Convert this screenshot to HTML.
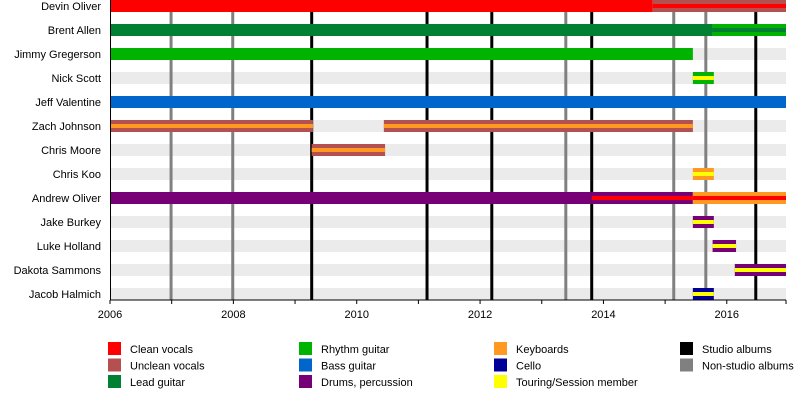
<!DOCTYPE html>
<html><head><meta charset="utf-8"><style>
html,body{margin:0;padding:0;background:#fff;}
svg{display:block;font-family:"Liberation Sans",Arial,sans-serif;}
</style></head><body>
<svg id="chart" width="800" height="420" xmlns="http://www.w3.org/2000/svg"></svg>
<script>
const members = ["Devin Oliver","Brent Allen","Jimmy Gregerson","Nick Scott","Jeff Valentine","Zach Johnson","Chris Moore","Chris Koo","Andrew Oliver","Jake Burkey","Luke Holland","Dakota Sammons","Jacob Halmich"];
// bars: [row, start, end, outerRole, innerRole(or null)]
const bars = [
 [0,2006,2014.8,"clean",null],[0,2014.8,2016.96,"unclean","clean"],
 [1,2006,2015.77,"lead",null],[1,2015.77,2016.96,"rhythm","lead"],
 [2,2006,2015.45,"rhythm",null],
 [3,2015.45,2015.79,"rhythm","touring"],
 [4,2006,2016.96,"bass",null],
 [5,2006,2009.29,"unclean","keys"],[5,2010.44,2015.45,"unclean","keys"],
 [6,2009.27,2010.46,"unclean","keys"],
 [7,2015.45,2015.79,"keys","touring"],
 [8,2006,2013.81,"drums",null],[8,2013.81,2015.45,"drums","clean"],[8,2015.45,2016.96,"keys","clean"],
 [9,2015.45,2015.79,"drums","touring"],
 [10,2015.77,2016.15,"drums","touring"],
 [11,2016.13,2016.96,"drums","touring"],
 [12,2015.45,2015.79,"cello","touring"]
];
const studioAlbums = [2009.27,2011.14,2012.19,2013.81,2016.47];
const otherAlbums = [2006.99,2007.99,2013.39,2015.14,2015.66];
const tickYears = [2006,2007,2008,2009,2010,2011,2012,2013,2014,2015,2016,2017];
const labelYears = [2006,2008,2010,2012,2014,2016];
const roleColors = {clean:"#ff0000",unclean:"#b55050",lead:"#008033",rhythm:"#00b300",bass:"#0066cc",drums:"#770077",keys:"#ff9922",cello:"#000099",touring:"#ffff00"};
const legend = [["Clean vocals","clean"],["Unclean vocals","unclean"],["Lead guitar","lead"],["Rhythm guitar","rhythm"],["Bass guitar","bass"],["Drums, percussion","drums"],["Keyboards","keys"],["Cello","cello"],["Touring/Session member","touring"],["Studio albums","studio"],["Non-studio albums","other"]];

const svg=document.getElementById('chart');
const NS="http://www.w3.org/2000/svg";
const x0=110,x1=786,yr0=2006,yr1=2016.96;
const X=v=>x0+(v-yr0)*(x1-x0)/(yr1-yr0);
const Y=r=>r*24;
function mk(t,a,p){const e=document.createElementNS(NS,t);for(const k in a)e.setAttribute(k,a[k]);(p||svg).appendChild(e);return e;}
members.forEach((m,i)=>{
 const bg=mk('rect',{x:x0,y:Y(i),width:x1-x0,height:12,fill:'#ebebeb'});
 
 
 const t=mk('text',{x:101,y:Y(i)+10,'text-anchor':'end','font-size':'11',fill:'#000'});
 t.textContent=m;
 
 
});
otherAlbums.forEach(v=>{
 const l=mk('rect',{x:X(v)-1.5,y:0,width:3,height:300,fill:'#808080'});
 
 
});
studioAlbums.forEach(v=>{
 const l=mk('rect',{x:X(v)-1.5,y:0,width:3,height:300,fill:'#000'});
 
 
});
bars.forEach(b=>{
 const [r,s,e,o,inn]=b;
 const rc=mk('rect',{x:X(s),y:Y(r),width:X(e)-X(s),height:12,fill:roleColors[o]});
 
 
 if(inn){
  const ic=mk('rect',{x:X(s),y:Y(r)+4,width:X(e)-X(s),height:4,fill:roleColors[inn]});
  
  
 }
});
const ax=mk('line',{x1:x0,y1:300,x2:x1,y2:300,stroke:'#000','stroke-width':1});


const ay=mk('line',{x1:x0+0.5,y1:0,x2:x0+0.5,y2:300,stroke:'#000','stroke-width':1});


tickYears.forEach(v=>{
 const xx=Math.min(X(v),x1);
 const t=mk('line',{x1:xx,y1:300,x2:xx,y2:304,stroke:'#000','stroke-width':1});
 
 
});
labelYears.forEach(v=>{
 const t=mk('text',{x:X(v),y:318,'text-anchor':'middle','font-size':'11',fill:'#000'});
 t.textContent=v;
 
 
});
const colX=[108,299,494,680];
legend.forEach((l,i)=>{
 const c=Math.floor(i/3),r=i%3;
 const lx=colX[c],ly=342+r*16.5;
 const col=l[1]==='studio'?'#000':l[1]==='other'?'#808080':roleColors[l[1]];
 const g=mk('g',{});
 
 
 mk('rect',{x:lx,y:ly,width:13,height:13,fill:col},g);
 const t=mk('text',{x:lx+22,y:ly+11,'font-size':'11',fill:'#000'},g);
 t.textContent=l[0];
});
</script>
</body></html>
